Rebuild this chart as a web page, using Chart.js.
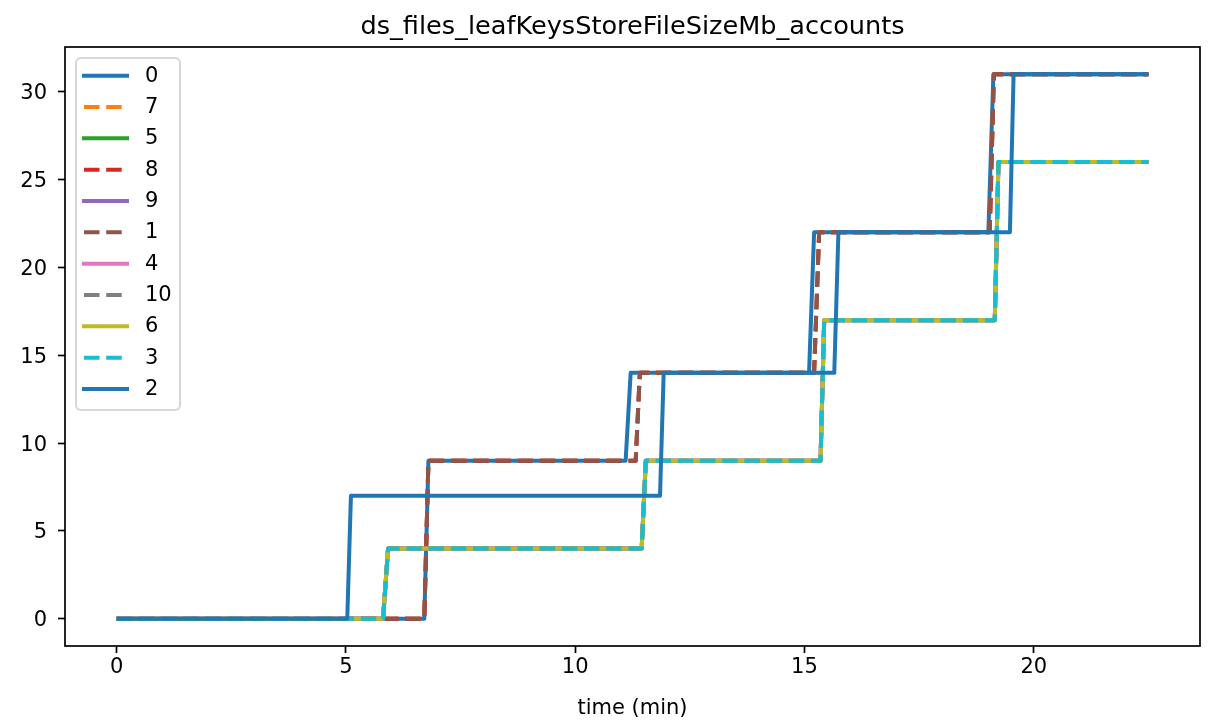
<!DOCTYPE html>
<html>
<head>
<meta charset="utf-8">
<script src="https://cdn.jsdelivr.net/npm/chart.js@4"></script>
<style>
  html, body { margin: 0; padding: 0; background: #fff; }
  #wrap { width: 1210px; height: 725px; }
</style>
</head>
<body>
<div id="wrap"><canvas id="grafico" width="1210" height="725"></canvas></div>
<script>
const titulo = 'ds_files_leafKeysStoreFileSizeMb_accounts';
const rotuloX = 'time (min)';

// series in legend order
const nomes = ['0', '7', '5', '8', '9', '1', '4', '10', '6', '3', '2'];
const cores = ['#1f77b4', '#ff7f0e', '#2ca02c', '#d62728', '#9467bd', '#8c564b',
               '#e377c2', '#7f7f7f', '#bcbd22', '#17becf', '#1f77b4'];
const tracejado = [false, true, false, true, false, true, false, true, false, true, false];
const perfil = ['B', 'M', 'C', 'M', 'C', 'M', 'C', 'C', 'C', 'C', 'A'];

// step profiles (time in min, size in Mb)
const tempoA = [0, 5.03, 5.11, 11.85, 11.93, 15.65, 15.74, 19.48, 19.56, 22.5];
const valorA = [0, 0, 7, 7, 14, 14, 22, 22, 31, 31];
const tempoB = [0, 6.71, 6.80, 11.10, 11.21, 15.10, 15.21, 19.01, 19.12, 22.5];
const valorB = [0, 0, 9, 9, 14, 14, 22, 22, 31, 31];
const tempoM = [0, 6.71, 6.80, 11.32, 11.41, 15.21, 15.32, 19.04, 19.13, 22.5];
const valorM = [0, 0, 9, 9, 14, 14, 22, 22, 31, 31];
const tempoC = [0, 5.81, 5.92, 11.45, 11.54, 15.35, 15.43, 19.15, 19.23, 22.5];
const valorC = [0, 0, 4, 4, 9, 9, 17, 17, 26, 26];

const ticksX = [0, 5, 10, 15, 20];
const ticksY = [0, 5, 10, 15, 20, 25, 30];

const perfis = {
  A: [tempoA, valorA],
  B: [tempoB, valorB],
  M: [tempoM, valorM],
  C: [tempoC, valorC]
};

const FONTE = '"DejaVu Sans", sans-serif';
const TRACO = [15.5, 6.7];

function montarDatasets() {
  return nomes.map((nome, i) => {
    const [t, v] = perfis[perfil[i]];
    return {
      label: nome,
      data: t.map((x, k) => ({ x: x, y: v[k] })),
      borderColor: cores[i],
      backgroundColor: cores[i],
      borderWidth: 4,
      borderDash: tracejado[i] ? TRACO : [],
      borderJoinStyle: 'round',
      borderCapStyle: 'butt',
      pointRadius: 0,
      tension: 0,
      fill: false,
      order: nomes.length - i
    };
  });
}

const moldura = {
  id: 'moldura',
  afterDatasetsDraw(chart) {
    const { ctx, chartArea: a } = chart;
    ctx.save();
    ctx.strokeStyle = '#000';
    ctx.lineWidth = 1.7;
    ctx.strokeRect(a.left, a.top, a.right - a.left, a.bottom - a.top);
    ctx.restore();
  }
};

const tituloPlugin = {
  id: 'tituloPlugin',
  afterDraw(chart) {
    const { ctx, chartArea: a } = chart;
    ctx.save();
    ctx.fillStyle = '#000';
    ctx.font = '25.6px ' + FONTE;
    ctx.textAlign = 'center';
    ctx.textBaseline = 'alphabetic';
    ctx.fillText(titulo, (a.left + a.right) / 2, a.top - 13);
    ctx.restore();
  }
};

const legenda = {
  id: 'legenda',
  afterDraw(chart) {
    const ctx = chart.ctx;
    const x0 = 76, y0 = 58, w = 104, h = 352, r = 5;
    ctx.save();
    ctx.beginPath();
    ctx.roundRect(x0, y0, w, h, r);
    ctx.fillStyle = 'rgba(255,255,255,0.8)';
    ctx.fill();
    ctx.lineWidth = 2;
    ctx.strokeStyle = 'rgba(204,204,204,0.8)';
    ctx.stroke();
    chart.data.datasets.forEach((ds, i) => {
      const y = 75.7 + i * 31.33;
      ctx.beginPath();
      ctx.setLineDash(ds.borderDash);
      ctx.lineWidth = 4;
      ctx.strokeStyle = ds.borderColor;
      ctx.lineCap = 'butt';
      if (ds.borderDash.length) {
        ctx.moveTo(84, y);
        ctx.lineTo(128, y);
      } else {
        ctx.moveTo(82, y);
        ctx.lineTo(129, y);
      }
      ctx.stroke();
      ctx.setLineDash([]);
      ctx.fillStyle = '#000';
      ctx.font = '21px ' + FONTE;
      ctx.textAlign = 'left';
      ctx.textBaseline = 'middle';
      ctx.fillText(ds.label, 145, y + 0.5);
    });
    ctx.restore();
  }
};

const ctx = document.getElementById('grafico').getContext('2d');
const grafico = new Chart(ctx, {
  type: 'line',
  data: { datasets: montarDatasets() },
  options: {
    responsive: false,
    animation: false,
    devicePixelRatio: 1,
    layout: { padding: { left: 0, top: 47, right: 10, bottom: 0 } },
    plugins: {
      legend: { display: false },
      title: { display: false },
      tooltip: { enabled: false }
    },
    scales: {
      x: {
        type: 'linear',
        min: -1.125,
        max: 23.625,
        afterFit(scale) { scale.height = 79; },
        afterBuildTicks(scale) { scale.ticks = ticksX.map(v => ({ value: v })); },
        grid: {
          drawOnChartArea: false,
          drawTicks: true,
          tickLength: 7,
          tickWidth: 1.7,
          tickColor: '#000'
        },
        border: { display: false },
        ticks: {
          color: '#000',
          font: { family: FONTE, size: 21 },
          padding: 2,
          maxRotation: 0,
          autoSkip: false
        },
        title: {
          display: true,
          text: rotuloX,
          color: '#000',
          font: { family: FONTE, size: 21 },
          padding: { top: 0, bottom: 4 }
        }
      },
      y: {
        type: 'linear',
        min: -1.55,
        max: 32.55,
        afterFit(scale) { scale.width = 65; },
        afterBuildTicks(scale) { scale.ticks = ticksY.map(v => ({ value: v })); },
        grid: {
          drawOnChartArea: false,
          drawTicks: true,
          tickLength: 7,
          tickWidth: 1.7,
          tickColor: '#000'
        },
        border: { display: false },
        ticks: {
          color: '#000',
          font: { family: FONTE, size: 21 },
          padding: 11,
          labelOffset: 2,
          autoSkip: false
        }
      }
    }
  },
  plugins: [moldura, tituloPlugin, legenda]
});
</script>
</body>
</html>
